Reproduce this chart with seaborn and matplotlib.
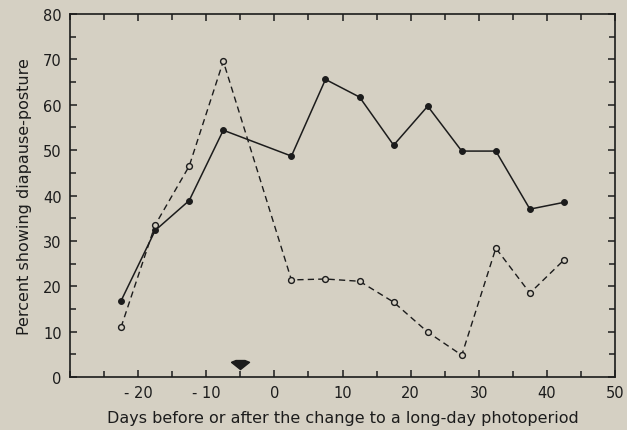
import matplotlib
matplotlib.use("Agg")
import matplotlib.pyplot as plt
import seaborn as sns
import pandas as pd
from matplotlib.ticker import MultipleLocator, FixedLocator

days = [-22.5, -17.5, -12.5, -7.5, 2.5, 7.5, 12.5, 17.5, 22.5, 27.5, 32.5, 37.5, 42.5]
solid_vals = [16.8, 32.3, 38.9, 54.4, 48.7, 65.6, 61.7, 51.1, 59.7, 49.8, 49.8, 37.0, 38.5]
open_vals = [11.0, 33.5, 46.5, 69.6, 21.4, 21.6, 21.1, 16.5, 9.9, 4.8, 28.4, 18.5, 25.8]
arrow_day = -5
arrow_y = 2.6
xticks = [-20, -10, 0, 10, 20, 30, 40, 50]
yticks = [0, 10, 20, 30, 40, 50, 60, 70, 80]

bg = "#d5d0c3"
ink = "#1c1c1c"

sns.set_theme(style="ticks")
plt.rcParams["font.family"] = ["DejaVu Sans"]

fig = plt.figure(figsize=(6.27, 4.31), dpi=100)
fig.patch.set_facecolor(bg)
ax = fig.add_axes([0.1116, 0.123, 0.8694, 0.842])
ax.set_facecolor(bg)

df = pd.DataFrame({"day": days, "solid": solid_vals, "open": open_vals})

sns.lineplot(data=df, x="day", y="solid", ax=ax, color=ink, lw=1.1,
             marker="o", markersize=4.2, markerfacecolor=ink, markeredgecolor=ink)
sns.lineplot(data=df, x="day", y="open", ax=ax, color=ink, lw=1.0,
             linestyle=(0, (4.5, 3)), marker="o", markersize=4.2,
             markerfacecolor=bg, markeredgecolor=ink, markeredgewidth=1.0)

arrow_marker = [(-1.0, 0.35), (-0.5, 0.55), (0.5, 0.55), (1.0, 0.35), (0.0, -0.45), (-1.0, 0.35)]
ax.plot([arrow_day], [arrow_y], marker=arrow_marker, markersize=13, color=ink, clip_on=False)

ax.set_xlim(-30, 50)
ax.set_ylim(0, 80)
ax.xaxis.set_major_locator(FixedLocator(xticks))
ax.xaxis.set_minor_locator(MultipleLocator(5))
ax.yaxis.set_major_locator(FixedLocator(yticks))
ax.yaxis.set_minor_locator(MultipleLocator(5))
ax.set_xticklabels([f"{t:d}" if t >= 0 else f"- {abs(t):d}" for t in xticks], fontsize=10.5, color=ink)
ax.set_yticklabels([str(t) for t in yticks], fontsize=10.5, color=ink)
ax.tick_params(which="both", direction="in", top=True, right=True, color=ink, width=1.1)
ax.tick_params(which="major", length=5, pad=6)
ax.tick_params(which="minor", length=4)
for s in ax.spines.values():
    s.set_visible(True)
    s.set_color(ink)
    s.set_linewidth(1.2)

ax.set_xlabel("Days before or after the change to a long-day photoperiod", fontsize=11.5, color=ink, labelpad=7)
ax.set_ylabel("Percent showing diapause-posture", fontsize=11.5, color=ink, labelpad=8)

fig.savefig("out.png", dpi=100, facecolor=bg)
